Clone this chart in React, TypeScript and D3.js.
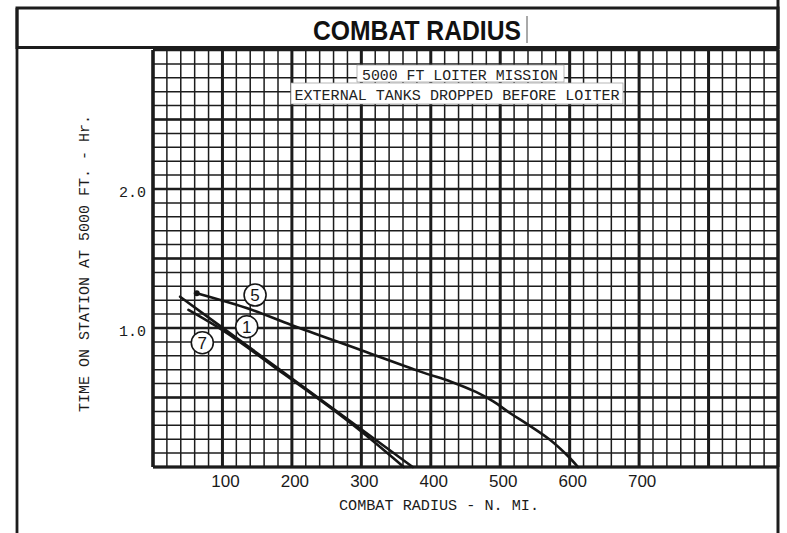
import React from 'react';
import * as d3 from 'd3';

// chart values
const X_MAX = 900;
const Y_MAX = 3.0;
const xTickLabels = [100, 200, 300, 400, 500, 600, 700];
const yTickLabels = [1.0, 2.0];

// configuration 5
const curve5: [number, number][] = [
    [63, 1.25], [140, 1.135], [200, 1.02], [300, 0.84], [385, 0.686], [430, 0.612],
    [465, 0.54], [490, 0.472], [515, 0.385], [540, 0.305], [572, 0.194], [596, 0.086], [612, 0],
];
// configuration 1
const curve1: [number, number][] = [
    [39, 1.225], [94, 1.024], [176, 0.725], [270, 0.381], [374, 0],
];
// configuration 7
const curve7: [number, number][] = [
    [51, 1.13], [100, 0.985], [180, 0.70], [260, 0.41], [300, 0.255], [361, 0],
];

const curveLabels = [
    { id: '5', x: 147, y: 1.237 },
    { id: '1', x: 135, y: 1.009 },
    { id: '7', x: 71, y: 0.894 },
];

const W = 787;
const H = 533;
const INK = '#1c1c1c';
const MONO = "'Liberation Mono', 'DejaVu Sans Mono', monospace";
const SANS = "'Liberation Sans', Arial, sans-serif";

export default function App() {
    const plot = { left: 153, right: 778, top: 50, bottom: 467 };

    const x = d3.scaleLinear().domain([0, X_MAX]).range([plot.left, plot.right]);
    const y = d3.scaleLinear().domain([0, Y_MAX]).range([plot.bottom, plot.top]);

    const xMinor = d3.range(0, X_MAX / 20 + 1).map(i => i * 20);
    const yMinor = d3.range(0, Math.round(Y_MAX * 10) + 1).map(i => i / 10);
    const xMajor = xMinor.filter(v => v % 100 === 0);
    const yMajor = yMinor.filter(v => Math.round(v * 10) % 5 === 0);

    const smooth = d3.line<[number, number]>()
        .x(d => x(d[0]))
        .y(d => y(d[1]))
        .curve(d3.curveCatmullRom.alpha(0.5));

    const straight = d3.line<[number, number]>()
        .x(d => x(d[0]))
        .y(d => y(d[1]))
        .curve(d3.curveMonotoneX);

    return (
        <div style={{ position: 'absolute', left: 0, top: 0 }}>
            <svg width={W} height={H} style={{ display: 'block', background: '#fff' }}>
                {/* grid */}
                <g stroke={INK}>
                    {xMinor.map(v => (
                        <line key={'xm' + v} x1={x(v)} x2={x(v)} y1={plot.top} y2={plot.bottom} strokeWidth={1.5} />
                    ))}
                    {yMinor.map(v => (
                        <line key={'ym' + v} x1={plot.left} x2={plot.right} y1={y(v)} y2={y(v)} strokeWidth={1.5} />
                    ))}
                    {xMajor.map(v => (
                        <line key={'xM' + v} x1={x(v)} x2={x(v)} y1={plot.top} y2={plot.bottom} strokeWidth={3} />
                    ))}
                    {yMajor.map(v => (
                        <line key={'yM' + v} x1={plot.left} x2={plot.right} y1={y(v)} y2={y(v)} strokeWidth={2.6} />
                    ))}
                    <line x1={plot.left} x2={plot.right} y1={plot.bottom} y2={plot.bottom} strokeWidth={3.2} />
                    <line x1={plot.left} x2={plot.left} y1={plot.top} y2={plot.bottom} strokeWidth={3.2} />
                </g>

                {/* frame */}
                <g stroke={INK} fill="none">
                    <rect x={17} y={8} width={761} height={39.5} fill="#fff" strokeWidth={3} />
                    <line x1={17} x2={17} y1={8} y2={H} strokeWidth={2.8} />
                    <line x1={778} x2={778} y1={0} y2={H} strokeWidth={3} />
                </g>

                {/* title */}
                <text x={417} y={40} textAnchor="middle" fontFamily={SANS} fontWeight="bold" fontSize={28}
                    fill="#111" textLength={208} lengthAdjust="spacingAndGlyphs">COMBAT RADIUS</text>
                <line x1={527} x2={527} y1={16} y2={43} stroke="#555" strokeWidth={1} />

                {/* mission labels */}
                <rect x={357} y={65} width={207} height={17} fill="#fff" stroke="#999" strokeWidth={0.7} />
                <rect x={291} y={83} width={332} height={21} fill="#fff" stroke="#999" strokeWidth={0.7} />
                <text x={460} y={80} textAnchor="middle" fontFamily={MONO} fontSize={15} fill="#222"
                    textLength={196} lengthAdjust="spacingAndGlyphs">5000 FT LOITER MISSION</text>
                <text x={457} y={100} textAnchor="middle" fontFamily={MONO} fontSize={15} fill="#222"
                    textLength={325} lengthAdjust="spacingAndGlyphs">EXTERNAL TANKS DROPPED BEFORE LOITER</text>

                {/* curves */}
                <g fill="none" stroke="#161616" strokeWidth={2.6} strokeLinecap="round">
                    <path d={smooth(curve5) ?? ''} />
                    <path d={straight(curve1) ?? ''} />
                    <path d={straight(curve7) ?? ''} />
                </g>
                <circle cx={x(curve5[0][0])} cy={y(curve5[0][1])} r={3} fill="#161616" />

                {/* curve labels */}
                {curveLabels.map(l => (
                    <g key={l.id}>
                        <circle cx={x(l.x)} cy={y(l.y)} r={11} fill="#fff" stroke="#161616" strokeWidth={1.6} />
                        <text x={x(l.x)} y={y(l.y) + 6} textAnchor="middle" fontFamily={SANS} fontSize={17} fill="#161616">{l.id}</text>
                    </g>
                ))}

                {/* x tick labels */}
                {xTickLabels.map(v => (
                    <text key={'xt' + v} x={x(v) + 3} y={487} textAnchor="middle" fontFamily={SANS} fontSize={17} fill="#1a1a1a">{v}</text>
                ))}

                {/* y tick labels */}
                {yTickLabels.map(v => (
                    <text key={'yt' + v} x={146} y={y(v) + 8} textAnchor="end" fontFamily={MONO} fontSize={15} fill="#1a1a1a">{v.toFixed(1)}</text>
                ))}

                {/* axis titles */}
                <text x={439} y={510} textAnchor="middle" fontFamily={MONO} fontSize={15} fill="#1a1a1a"
                    textLength={200} lengthAdjust="spacingAndGlyphs">COMBAT RADIUS - N. MI.</text>
                <text transform="translate(89,263.5) rotate(-90)" textAnchor="middle" fontFamily={MONO} fontSize={15}
                    fill="#1a1a1a" textLength={297} lengthAdjust="spacingAndGlyphs">TIME ON STATION AT 5000 FT. - Hr.</text>
            </svg>
        </div>
    );
}
